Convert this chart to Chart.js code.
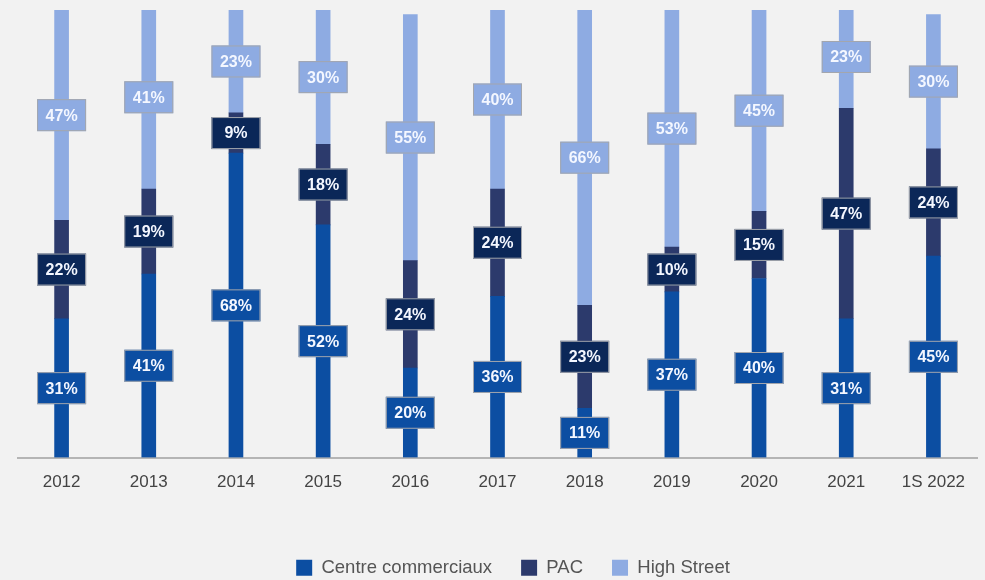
<!DOCTYPE html>
<html>
<head>
<meta charset="utf-8">
<script src="https://cdn.jsdelivr.net/npm/chart.js@4/dist/chart.umd.min.js"></script>
<style>
  html, body { margin: 0; padding: 0; background: #f2f2f2; }
  #wrap { width: 985px; height: 580px; }
</style>
</head>
<body>
<div id="wrap"><canvas id="chartCanvas" width="985" height="580"></canvas></div>
<script>
// Répartition (%) par type d'emplacement
const annees = ['2012', '2013', '2014', '2015', '2016', '2017', '2018', '2019', '2020', '2021', '1S 2022'];
const centresCommerciaux = [31, 41, 68, 52, 20, 36, 11, 37, 40, 31, 45];
const pac = [22, 19, 9, 18, 24, 24, 23, 10, 15, 47, 24];
const highStreet = [47, 41, 23, 30, 55, 40, 66, 53, 45, 23, 30];

const couleursBarres = ['#0c4ea2', '#2c3a6c', '#8eabe2'];
const couleursEtiquettes = ['#0c4ea2', '#0b2758', '#8eabe2'];
const police = '"Liberation Sans", Arial, sans-serif';

// Étiquettes encadrées au centre de chaque segment
const etiquettesPlugin = {
  id: 'etiquettes',
  afterDatasetsDraw(chart) {
    const ctx = chart.ctx;
    ctx.save();
    ctx.font = 'bold 16px ' + police;
    ctx.textAlign = 'center';
    ctx.textBaseline = 'middle';
    chart.data.datasets.forEach((ds, i) => {
      const meta = chart.getDatasetMeta(i);
      meta.data.forEach((bar, j) => {
        const { x, y, base } = bar.getProps(['x', 'y', 'base'], true);
        const cy = (y + base) / 2;
        const w = 49, h = 32;
        ctx.fillStyle = couleursEtiquettes[i];
        ctx.fillRect(x - w / 2, cy - h / 2, w, h);
        ctx.strokeStyle = '#a3a6ad';
        ctx.lineWidth = 1;
        ctx.strokeRect(x - w / 2 + 0.5, cy - h / 2 + 0.5, w - 1, h - 1);
        ctx.fillStyle = '#f4f7ff';
        ctx.fillText(ds.data[j] + '%', x, cy + 1);
      });
    });
    ctx.restore();
  }
};

// Décale un peu la légende vers la droite
const decalageLegende = {
  id: 'decalageLegende',
  beforeDraw(chart) {
    if (chart.legend && !chart.legend._decale) {
      chart.legend.left += 31;
      chart.legend._decale = true;
    }
  }
};

const ctx = document.getElementById('chartCanvas').getContext('2d');
new Chart(ctx, {
  type: 'bar',
  data: {
    labels: annees,
    datasets: [
      { label: 'Centre commerciaux', data: centresCommerciaux, backgroundColor: couleursBarres[0] },
      { label: 'PAC', data: pac, backgroundColor: couleursBarres[1] },
      { label: 'High Street', data: highStreet, backgroundColor: couleursBarres[2] }
    ]
  },
  options: {
    responsive: false,
    animation: false,
    layout: { padding: { left: 18, right: 8, top: 10, bottom: -7 } },
    datasets: { bar: { barThickness: 14 } },
    plugins: {
      legend: {
        position: 'bottom',
        labels: {
          boxWidth: 16,
          boxHeight: 16,
          padding: 29,
          color: '#555',
          font: { family: police, size: 18.5 }
        }
      },
      tooltip: { enabled: false }
    },
    scales: {
      x: {
        stacked: true,
        grid: { display: false },
        border: { display: true, color: '#b5b5b5', width: 2 },
        ticks: {
          color: '#444',
          padding: 7,
          font: { family: police, size: 17 }
        },
        afterFit(axis) { axis.height = 72; }
      },
      y: {
        stacked: true,
        display: false,
        min: 0,
        max: 100
      }
    }
  },
  plugins: [etiquettesPlugin, decalageLegende]
});
</script>
</body>
</html>
